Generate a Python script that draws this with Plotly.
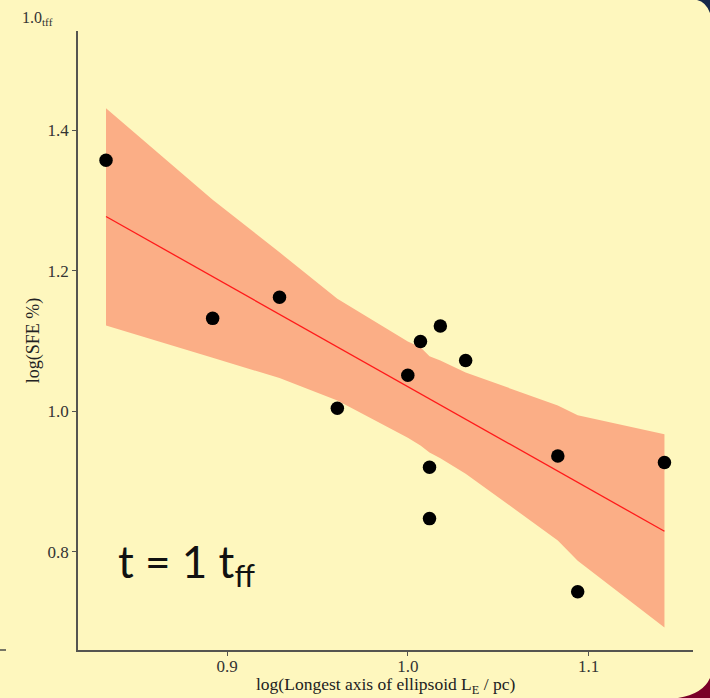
import plotly.graph_objects as go

# Data
x_vals = [0.833, 0.892, 0.929, 0.961, 1.000, 1.007, 1.018, 1.012, 1.012, 1.032, 1.083, 1.094, 1.142]
y_vals = [1.357, 1.132, 1.162, 1.004, 1.051, 1.099, 1.121, 0.920, 0.847, 1.072, 0.936, 0.743, 0.927]

band_x = [0.833, 0.892, 0.929, 0.961, 1.000, 1.007, 1.012, 1.018, 1.032, 1.083, 1.094, 1.142]
band_upper = [1.431, 1.301, 1.226, 1.160, 1.099, 1.091, 1.078, 1.072, 1.055, 1.008, 0.994, 0.967]
band_lower = [1.122, 1.076, 1.047, 1.015, 0.962, 0.951, 0.941, 0.933, 0.911, 0.816, 0.787, 0.692]

fit_x = [0.833, 1.142]
fit_y = [1.277, 0.829]

x_ticks = [0.9, 1.0, 1.1]
y_ticks = [0.8, 1.0, 1.2, 1.4]

x_title = "log(Longest axis of ellipsoid L<sub>E</sub> / pc)"
y_title = "log(SFE %)"

BG = "#FEF7BE"
W, H = 710, 698
L, R, T, B = 78, 17, 31, 48
PW, PH = W - L - R, H - T - B


def px(x):
    return (x - L) / PW


def py(y):
    return (H - B - y) / PH


fig = go.Figure()
fig.add_trace(go.Scatter(
    x=band_x + band_x[::-1], y=band_upper + band_lower[::-1],
    fill="toself", fillcolor="#FBAE86", line=dict(width=0),
    mode="lines", hoverinfo="skip", showlegend=False))
fig.add_trace(go.Scatter(
    x=fit_x, y=fit_y, mode="lines",
    line=dict(color="#FF1A1A", width=1.3), showlegend=False))
fig.add_trace(go.Scatter(
    x=x_vals, y=y_vals, mode="markers",
    marker=dict(color="black", size=13.5), showlegend=False))

axis_common = dict(
    showgrid=False, zeroline=False, showline=True, automargin=False,
    linecolor="#555550", linewidth=1.6, ticks="outside", ticklen=4,
    tickcolor="#555550", tickwidth=1.2,
    tickfont=dict(family="Liberation Serif", size=17, color="#333333"),
    title_font=dict(family="Liberation Serif", size=18, color="#222222"),
)
fig.update_xaxes(range=[0.8175, 1.1578], tickvals=x_ticks, tickformat=".1f",
                 ticklabelstandoff=-4, **axis_common)
fig.update_yaxes(range=[0.66, 1.541], tickvals=y_ticks, tickformat=".1f",
                 title_text=y_title, title_standoff=3, **axis_common)

shapes = [
    # small axis stub at far left
    dict(type="line", xref="paper", yref="paper", x0=px(0), x1=px(6), y0=py(650), y1=py(650),
         line=dict(color="#555550", width=1.6)),
    # navy top-right corner
    dict(type="path", xref="paper", yref="paper",
         path=f"M {px(697)} {py(0)} Q {px(706)} {py(2)} {px(710)} {py(13)} L {px(711)} {py(13)} L {px(711)} {py(-1)} Z",
         fillcolor="#15284A", line=dict(width=0)),
    # dark red bottom-right corner
    dict(type="path", xref="paper", yref="paper",
         path=f"M {px(678)} {py(698)} Q {px(703)} {py(694)} {px(710)} {py(678)} L {px(711)} {py(678)} L {px(711)} {py(699)} Z",
         fillcolor="#7A0028", line=dict(width=0)),
]

annotations = [
    dict(text=x_title, xref="paper", yref="paper", x=0.5, y=py(699),
         xanchor="center", yanchor="bottom", showarrow=False,
         font=dict(family="Liberation Serif", size=17.5, color="#222222")),
    dict(text="1.0<sub>tff</sub>", xref="paper", yref="paper", x=px(20), y=py(19),
         xanchor="left", yanchor="middle", showarrow=False,
         font=dict(family="Liberation Serif", size=16, color="#333333")),
    dict(text="t = 1 t<sub>ff</sub>", xref="paper", yref="paper", x=px(116), y=py(564),
         xanchor="left", yanchor="middle", showarrow=False,
         font=dict(family="Lato", size=44, color="#111111")),
]

fig.update_layout(
    width=W, height=H, autosize=False,
    margin=dict(l=L, r=R, t=T, b=B, pad=0),
    paper_bgcolor=BG, plot_bgcolor=BG,
    shapes=shapes, annotations=annotations,
)

fig.write_html("out.html")
